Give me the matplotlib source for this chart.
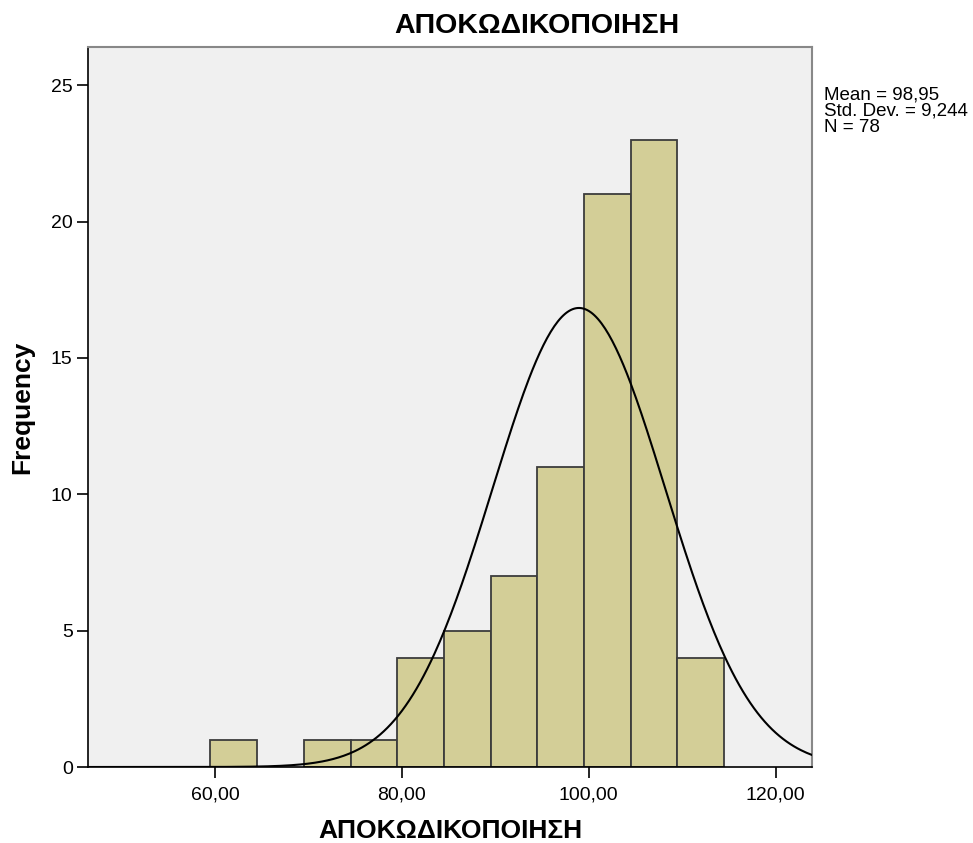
import numpy as np
from matplotlib import pyplot as plt

# histogram data (SPSS output)
bin_edges = [59.5, 64.5, 69.5, 74.5, 79.5, 84.5, 89.5, 94.5, 99.5, 104.5, 109.5, 114.5]
counts = [1, 0, 1, 1, 4, 5, 7, 11, 21, 23, 4]
mean = 98.95
std_dev = 9.244
n_total = 78
x_ticks = [60, 80, 100, 120]
x_tick_labels = ["60,00", "80,00", "100,00", "120,00"]
y_ticks = [0, 5, 10, 15, 20, 25]
title = "ΑΠΟΚΩΔΙΚΟΠΟΙΗΣΗ"

plt.rcParams['font.family'] = ['Liberation Sans', 'DejaVu Sans']

fig = plt.figure(figsize=(9.73, 8.43), dpi=100)
ax = fig.add_axes([88 / 973, 1 - 767 / 843, (812 - 88) / 973, (767 - 47) / 843])
ax.set_facecolor('#f0f0f0')

widths = np.diff(bin_edges)
lefts = np.array(bin_edges[:-1])
heights = np.array(counts)
mask = heights > 0
ax.bar(lefts[mask], heights[mask], width=widths[mask], align='edge',
       color='#d3ce97', edgecolor='#3c3c3c', linewidth=1.3, zorder=2)

# normal curve scaled to counts
xs = np.linspace(46.4, 123.9, 400)
bw = widths[0]
ys = n_total * bw / (std_dev * np.sqrt(2 * np.pi)) * np.exp(-0.5 * ((xs - mean) / std_dev) ** 2)
ax.plot(xs, ys, color='black', linewidth=1.5, zorder=3)

ax.set_xlim(46.4, 123.9)
ax.set_ylim(0, 26.4)
ax.set_xticks(x_ticks)
ax.set_xticklabels(x_tick_labels)
ax.set_yticks(y_ticks)
ax.tick_params(axis='both', direction='out', length=8, width=1.2, labelsize=14, colors='black')
ax.tick_params(axis='x', pad=6)
ax.tick_params(axis='y', pad=3)

for side in ['top', 'right']:
    ax.spines[side].set_color('#888888')
    ax.spines[side].set_linewidth(1.5)
for side in ['left', 'bottom']:
    ax.spines[side].set_color('black')
    ax.spines[side].set_linewidth(1.2)

fig.text(537 / 973, 1 - 26 / 843, title, fontsize=20.5, fontweight='bold',
         ha='center', va='center')
fig.text(450 / 973, 1 - 831 / 843, title, fontsize=19, fontweight='bold',
         ha='center', va='center')
fig.text(22 / 973, 1 - 407 / 843, "Frequency", fontsize=19, fontweight='bold',
         ha='center', va='center', rotation=90)

fig.text(824 / 973, 1 - 87 / 843,
         "Mean = 98,95\nStd. Dev. = 9,244\nN = 78",
         fontsize=13.5, va='top', ha='left', linespacing=0.92)

fig.savefig('out.png', dpi=100)
